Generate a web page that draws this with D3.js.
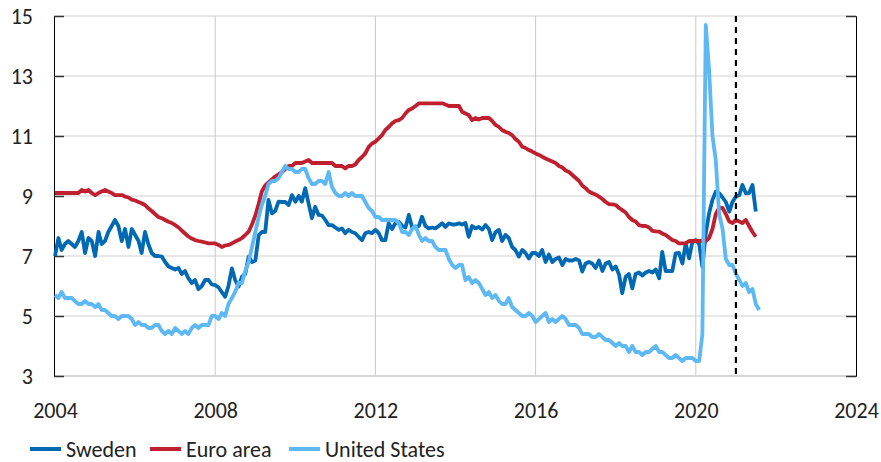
<!DOCTYPE html>
<html lang="en">
<head>
<meta charset="UTF-8">
<title>Unemployment</title>
<style>
    body { margin: 0; background: #fff; }
    svg { display: block; }
    text { font-family: Carlito, Calibri, Lato, sans-serif; fill: #222; }
</style>
<script src="https://d3js.org/d3.v7.min.js"></script>
</head>
<body>
<svg width="881" height="462"></svg>
<script>
// monthly values, Jan 2004 onwards
const sweden = [
    7.0,7.6,7.2,7.4,7.5,7.4,7.3,7.5,7.8,7.1,7.6,7.5,
    7.0,7.8,7.4,7.5,7.8,8.0,8.2,8.0,7.5,7.9,7.3,7.9,
    7.7,7.5,7.1,7.8,7.4,7.1,7.0,7.0,6.98,6.8,6.65,6.6,
    6.55,6.6,6.4,6.5,6.26,6.1,6.2,5.9,6.0,6.2,6.2,6.05,
    6.03,5.95,5.8,5.64,6.0,6.59,6.2,5.98,6.31,6.4,6.98,6.8,
    6.85,7.7,7.8,7.8,8.87,8.42,8.5,8.81,8.8,8.8,8.7,9.03,
    8.81,9.0,8.81,9.26,8.76,8.26,8.64,8.37,8.35,8.2,8.03,8.03,
    7.95,7.87,7.92,7.76,7.87,7.8,7.76,7.64,7.53,7.76,7.8,7.76,
    7.87,7.76,7.53,7.53,8.09,7.9,8.09,8.14,8.0,7.95,8.37,7.95,
    7.96,8.0,8.31,8.0,7.92,7.95,7.92,8.0,8.09,7.97,8.09,8.05,
    8.05,8.09,8.05,8.1,7.64,8.0,7.92,7.97,7.88,8.03,7.9,7.53,
    7.8,7.87,7.5,7.7,7.6,7.3,7.2,6.98,7.2,7.1,6.92,7.1,
    7.1,7.0,7.2,6.8,7.05,6.8,6.9,6.95,6.7,6.9,6.85,6.85,
    6.9,6.85,6.48,6.75,6.8,6.75,6.6,6.85,6.5,6.75,6.8,6.55,
    6.65,6.37,5.76,6.3,6.4,5.92,6.4,6.45,6.35,6.45,6.5,6.45,
    6.55,6.26,7.14,6.5,6.5,6.5,7.09,7.1,6.75,7.42,6.92,7.48,
    7.53,7.4,6.64,7.76,8.42,8.87,9.14,9.09,8.95,8.8,8.48,8.81,
    8.98,9.03,9.37,9.09,9.1,9.37,8.48
];
const euroArea = [
    9.1,9.1,9.1,9.1,9.1,9.1,9.1,9.1,9.2,9.15,9.2,9.1,
    9.03,9.1,9.15,9.2,9.15,9.1,9.03,9.03,9.03,8.98,8.95,8.88,
    8.85,8.8,8.76,8.7,8.59,8.5,8.4,8.3,8.26,8.2,8.14,8.1,
    8.03,7.95,7.85,7.75,7.65,7.58,7.53,7.5,7.48,7.45,7.42,7.42,
    7.42,7.37,7.3,7.35,7.37,7.42,7.48,7.53,7.6,7.7,7.81,8.05,
    8.35,8.75,9.15,9.35,9.45,9.55,9.65,9.72,9.8,9.9,10.0,10.0,
    10.1,10.1,10.1,10.15,10.2,10.1,10.1,10.1,10.1,10.1,10.1,10.1,
    10.0,10.0,10.0,9.92,10.0,10.0,10.05,10.2,10.3,10.42,10.64,10.75,
    10.81,10.92,11.03,11.2,11.3,11.42,11.5,11.53,11.6,11.75,11.87,11.92,
    12.0,12.09,12.09,12.09,12.09,12.09,12.09,12.09,12.09,12.05,12.0,12.0,
    12.0,12.0,11.81,11.75,11.7,11.53,11.6,11.55,11.6,11.6,11.6,11.5,
    11.37,11.3,11.2,11.14,11.1,11.03,10.9,10.81,10.64,10.6,10.53,10.48,
    10.42,10.37,10.31,10.25,10.2,10.15,10.1,10.0,9.95,9.85,9.8,9.7,
    9.6,9.5,9.35,9.26,9.15,9.09,9.05,8.98,8.9,8.8,8.73,8.72,
    8.7,8.6,8.53,8.45,8.3,8.2,8.15,8.03,8.0,8.0,7.95,7.84,
    7.82,7.81,7.75,7.7,7.62,7.53,7.5,7.42,7.42,7.42,7.5,7.5,
    7.5,7.5,7.5,7.5,7.6,7.9,8.4,8.6,8.6,8.4,8.15,8.1,
    8.2,8.15,8.1,8.2,8.0,7.8,7.64
];
const unitedStates = [
    5.7,5.6,5.8,5.6,5.6,5.6,5.5,5.4,5.4,5.5,5.4,5.4,
    5.3,5.4,5.2,5.2,5.1,5.0,5.0,4.9,5.0,5.0,5.0,4.9,
    4.7,4.8,4.7,4.7,4.6,4.6,4.7,4.7,4.5,4.4,4.5,4.4,
    4.6,4.5,4.4,4.5,4.4,4.6,4.7,4.6,4.7,4.7,4.7,5.0,
    5.0,4.9,5.1,5.0,5.4,5.6,5.8,6.1,6.1,6.5,6.8,7.3,
    7.8,8.3,8.7,9.0,9.4,9.5,9.5,9.6,9.8,10.0,9.9,9.9,
    9.8,9.8,9.9,9.9,9.6,9.4,9.4,9.5,9.5,9.4,9.8,9.3,
    9.1,9.0,9.0,9.1,9.0,9.1,9.0,9.0,9.0,8.8,8.6,8.5,
    8.3,8.3,8.2,8.2,8.2,8.2,8.2,8.1,7.8,7.8,7.7,7.9,
    8.0,7.7,7.5,7.6,7.5,7.5,7.3,7.2,7.2,7.2,6.9,6.7,
    6.6,6.7,6.7,6.2,6.3,6.1,6.2,6.1,5.9,5.7,5.8,5.6,
    5.7,5.5,5.4,5.4,5.6,5.3,5.2,5.1,5.0,5.0,5.1,5.0,
    4.8,4.9,5.0,5.1,4.8,4.9,4.8,4.9,5.0,4.9,4.7,4.7,
    4.7,4.6,4.4,4.4,4.4,4.3,4.3,4.4,4.3,4.2,4.2,4.1,
    4.0,4.1,4.0,4.0,3.8,4.0,3.8,3.8,3.7,3.8,3.8,3.9,
    4.0,3.8,3.8,3.7,3.6,3.6,3.7,3.6,3.5,3.6,3.6,3.6,
    3.5,3.5,4.4,14.7,13.2,11.0,10.2,8.4,7.9,6.9,6.7,6.7,
    6.4,6.2,6.0,6.1,5.8,5.9,5.4,5.2
];

const yTicks = [3, 5, 7, 9, 11, 13, 15];
const xTickYears = [2004, 2008, 2012, 2016, 2020, 2024];
const startDate = new Date(2004, 0, 1);
const markerDate = new Date(2021, 0, 1);

const series = [
    { name: "Sweden", values: sweden, color: "#0069b4" },
    { name: "Euro area", values: euroArea, color: "#bf1f2e" },
    { name: "United States", values: unitedStates, color: "#5db8f3" }
];

const svg = d3.select("svg");
const plotLeft = 55, plotRight = 856, plotTop = 16, plotBottom = 376;

const x = d3.scaleTime()
    .domain([new Date(2004, 0, 1), new Date(2024, 0, 1)])
    .range([plotLeft, plotRight]);
const y = d3.scaleLinear().domain([3, 15]).range([plotBottom, plotTop]);

// grid
svg.append("g").selectAll("line")
    .data(yTicks.slice(1))
    .enter().append("line")
    .attr("x1", plotLeft).attr("x2", plotRight)
    .attr("y1", d => y(d)).attr("y2", d => y(d))
    .style("stroke", "#d0d0d0").style("stroke-width", 1);

svg.append("g").selectAll("line")
    .data(xTickYears.slice(1, -1))
    .enter().append("line")
    .attr("x1", d => x(new Date(d, 0, 1))).attr("x2", d => x(new Date(d, 0, 1)))
    .attr("y1", plotTop).attr("y2", plotBottom)
    .style("stroke", "#c8c8c8").style("stroke-width", 1);

// baseline at 3
svg.append("line")
    .attr("x1", plotLeft).attr("x2", plotRight)
    .attr("y1", y(3)).attr("y2", y(3))
    .style("stroke", "#d6d6d6").style("stroke-width", 2);

// left axis, ticks pointing in
const yAxisLeft = svg.append("g")
    .attr("transform", `translate(${plotLeft - 1},0)`)
    .call(d3.axisLeft(y).tickValues(yTicks).tickSize(-10).tickPadding(21));
yAxisLeft.select(".domain").attr("stroke", "#000");
yAxisLeft.selectAll(".tick line").attr("stroke", "#333").attr("stroke-width", 1.5);
yAxisLeft.selectAll("text").style("font-size", "22px").attr("fill", "#222");

// right axis, no labels
const yAxisRight = svg.append("g")
    .attr("transform", `translate(${plotRight},0)`)
    .call(d3.axisRight(y).tickValues(yTicks).tickSize(-10).tickFormat(""));
yAxisRight.select(".domain").attr("stroke", "#000");
yAxisRight.selectAll(".tick line").attr("stroke", "#333").attr("stroke-width", 1.5);

// x axis labels
const xAxis = svg.append("g")
    .attr("transform", `translate(0,${plotBottom})`)
    .call(d3.axisBottom(x)
        .tickValues(xTickYears.map(d => new Date(d, 0, 1)))
        .tickFormat(d3.timeFormat("%Y"))
        .tickSize(0).tickPadding(26));
xAxis.select(".domain").remove();
xAxis.selectAll("text").style("font-size", "22px").attr("fill", "#222");

// lines
const line = d3.line()
    .x((d, i) => x(d3.timeMonth.offset(startDate, i)))
    .y(d => y(d));

series.forEach(s => {
    svg.append("path")
        .datum(s.values)
        .attr("d", line)
        .style("fill", "none")
        .style("stroke", s.color)
        .style("stroke-width", 3.8)
        .style("stroke-linejoin", "round");
});

// dashed marker
svg.append("line")
    .attr("x1", x(markerDate)).attr("x2", x(markerDate))
    .attr("y1", plotTop).attr("y2", plotBottom)
    .style("stroke", "#000").style("stroke-width", 2.2)
    .style("stroke-dasharray", "6,5");

// legend
const legendX = [30, 150, 289];
const legend = svg.append("g").selectAll("g")
    .data(series)
    .enter().append("g")
    .attr("transform", (d, i) => `translate(${legendX[i]},449)`);
legend.append("line")
    .attr("x1", 0).attr("x2", 31)
    .style("stroke", d => d.color).style("stroke-width", 4);
legend.append("text")
    .attr("x", 36).attr("y", 8)
    .style("font-size", "22px")
    .text(d => d.name);
</script>
</body>
</html>
